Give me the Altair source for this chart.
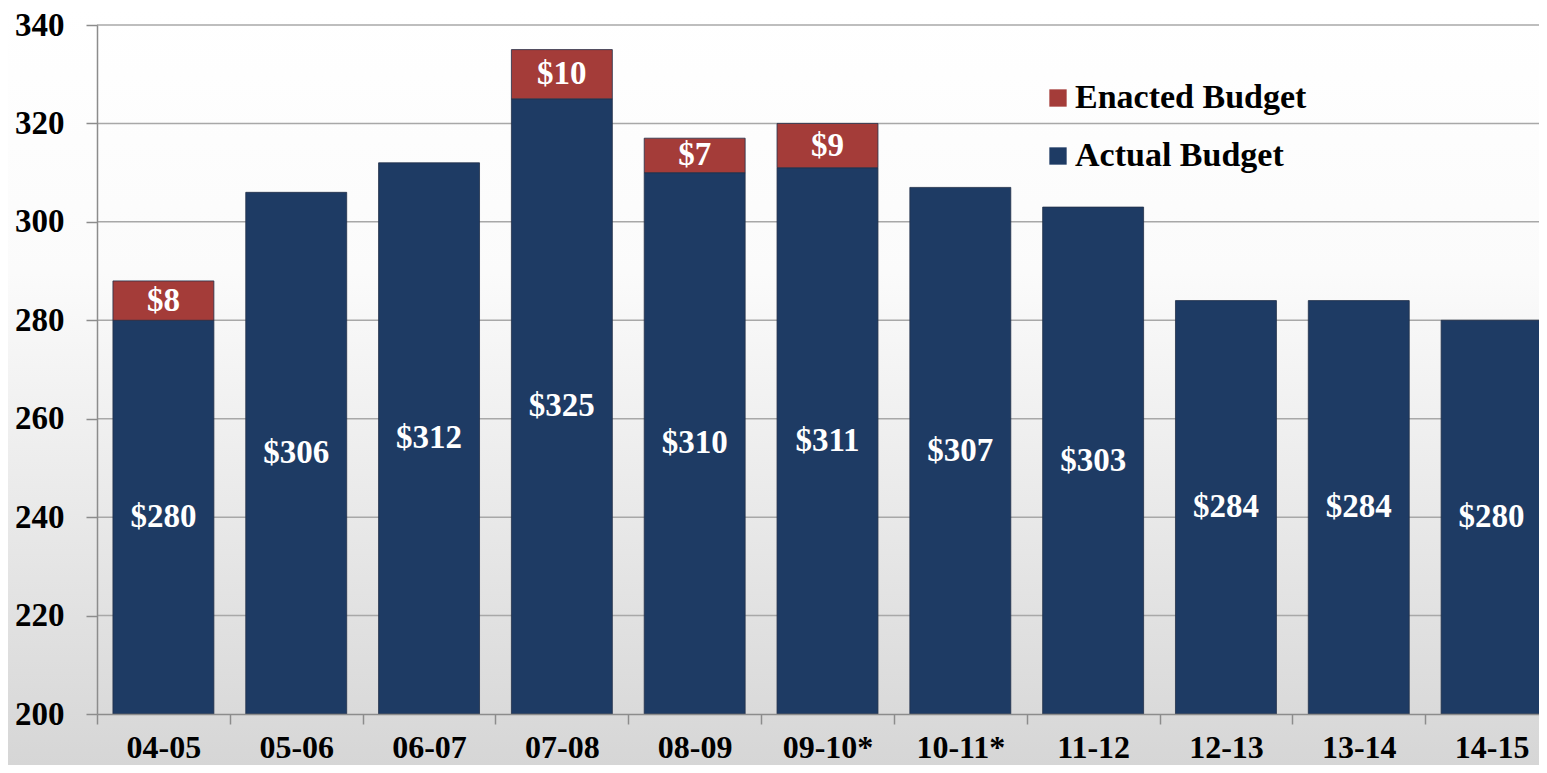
import altair as alt
import pandas as pd

categories = ["04-05", "05-06", "06-07", "07-08", "08-09", "09-10*", "10-11*",
              "11-12", "12-13", "13-14", "14-15"]
actual = [280, 306, 312, 325, 310, 311, 307, 303, 284, 284, 280]
enacted_extra = [8, 0, 0, 10, 7, 9, 0, 0, 0, 0, 0]
series_names = ["Enacted Budget", "Actual Budget"]
y_ticks = [200, 220, 240, 260, 280, 300, 320, 340]
BASE = 200

rows = []
for c, a, e in zip(categories, actual, enacted_extra):
    rows.append({"year": c, "series": "Actual Budget", "lo": BASE, "hi": a,
                 "mid": (BASE + a) / 2, "label": f"${a}"})
    if e > 0:
        rows.append({"year": c, "series": "Enacted Budget", "lo": a, "hi": a + e,
                     "mid": a + e / 2, "label": f"${e}"})
df = pd.DataFrame(rows)
grid_df = pd.DataFrame({"v": y_ticks[1:]})

W, H = 1442, 689
FONT = "Liberation Serif"

xscale = alt.Scale(domain=categories, range=[0, 1461], paddingInner=0, paddingOuter=0)
yscale = alt.Scale(domain=[200, 340], zero=False, nice=False)

yaxis = alt.Axis(title=None, values=y_ticks, grid=False,
                 labelFont=FONT, labelFontSize=33,
                 labelFontWeight="bold", labelColor="black", tickSize=11,
                 labelPadding=22, domainColor="#8c8c8c", tickColor="#8c8c8c",
                 domainWidth=1.5, tickWidth=1.5, zindex=1)
xaxis = alt.Axis(title=None, labelAngle=0, tickBand="extent", grid=False,
                 labelFont=FONT, labelFontSize=32, labelFontWeight="bold",
                 labelColor="black", tickSize=10, labelPadding=8,
                 domainColor="#8c8c8c", tickColor="#8c8c8c", domainWidth=1.5,
                 tickWidth=1.5, zindex=1)

bg = alt.Chart(pd.DataFrame({"k": [0]})).mark_rect(
    fill=alt.LinearGradient(
        gradient="linear", x1=0, y1=0, x2=0, y2=1,
        stops=[alt.GradientStop(color="#ffffff", offset=0),
               alt.GradientStop(color="#fbfbfb", offset=0.35),
               alt.GradientStop(color="#d6d6d6", offset=1)]),
).encode(x=alt.value(-89), x2=alt.value(W + 10), y=alt.value(-17), y2=alt.value(H + 51))

grid = alt.Chart(grid_df).mark_rule(color="#a8a8a8", strokeWidth=1.5).encode(
    y=alt.Y("v:Q", scale=yscale, axis=yaxis),
    x=alt.value(0), x2=alt.value(W),
)

bars = alt.Chart(df).mark_bar(stroke="#223049", strokeWidth=0.8,
                              width=alt.RelativeBandSize(0.76)).encode(
    x=alt.X("year:N", scale=xscale, sort=categories, axis=xaxis),
    y=alt.Y("lo:Q", scale=yscale, axis=yaxis),
    y2="hi:Q",
    color=alt.Color("series:N",
                    scale=alt.Scale(domain=series_names, range=["#a43c39", "#1e3b64"]),
                    legend=alt.Legend(title=None, orient="none", legendX=944, legendY=56,
                                      symbolType="square", symbolSize=300,
                                      symbolStrokeWidth=0, labelFont=FONT,
                                      labelFontSize=34, labelFontWeight="bold",
                                      labelColor="black", labelOffset=0, rowPadding=24,
                                      padding=0, labelLimit=500)),
)

labels = alt.Chart(df).mark_text(font=FONT, fontSize=33, fontWeight="bold",
                                 color="white", baseline="middle").encode(
    x=alt.X("year:N", scale=xscale, sort=categories),
    y=alt.Y("mid:Q", scale=yscale),
    text="label:N",
)

chart = alt.layer(bg, grid, bars, labels).properties(
    width=W, height=H,
    autosize=alt.AutoSizeParams(type="none"),
    padding={"left": 89, "top": 17, "right": 0, "bottom": 51},
).configure_view(stroke=None).configure(background="white")

chart.save("out.html", embed_options={"renderer": "svg", "actions": False})
